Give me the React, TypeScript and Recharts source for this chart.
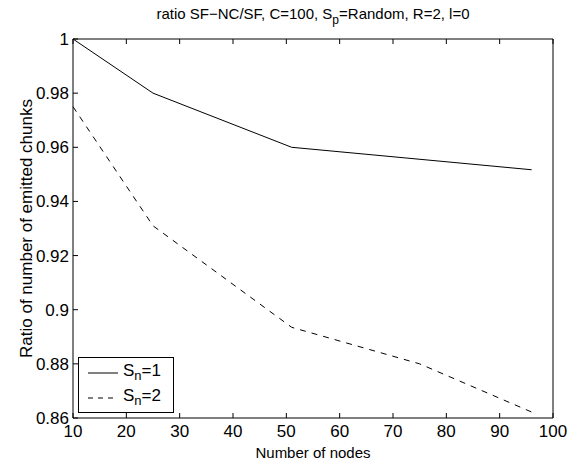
import React from "react";
import {
  LineChart,
  Line,
  XAxis,
  YAxis,
  Legend,
  Label,
} from "recharts";

// node counts on the x axis
const nodes = [10, 25, 51, 75, 96];
// S_n = 1 (no point measured at 75)
const sn1 = [1, 0.98, 0.96, null, 0.9517];
// S_n = 2
const sn2 = [0.975, 0.931, 0.8935, 0.88, 0.8622];

const xTicks = [10, 20, 30, 40, 50, 60, 70, 80, 90, 100];
const yTicks = [0.86, 0.88, 0.9, 0.92, 0.94, 0.96, 0.98, 1];

const FONT = '"Liberation Sans", Arial, Helvetica, sans-serif';
const TICK_LEN = 5;

const data = nodes.map((n, i) => ({ n, sn1: sn1[i], sn2: sn2[i] }));

const fmt = (v: number) => String(Number(v.toFixed(2)));

// ticks pointing into the plot, like matlab
const BottomTick = (props: any) => {
  const { x, y, payload } = props;
  return (
    <g>
      <line x1={x} y1={y} x2={x} y2={y - TICK_LEN} stroke="#000" />
      <text x={x} y={y + 19} textAnchor="middle" fontSize={17} fontFamily={FONT} fill="#000">
        {fmt(payload.value)}
      </text>
    </g>
  );
};

const TopTick = (props: any) => {
  const { x, y } = props;
  return <line x1={x} y1={y} x2={x} y2={y + TICK_LEN} stroke="#000" />;
};

const LeftTick = (props: any) => {
  const { x, y, payload } = props;
  return (
    <g>
      <line x1={x} y1={y} x2={x + TICK_LEN} y2={y} stroke="#000" />
      <text x={x - 4} y={y + 6} textAnchor="end" fontSize={17} fontFamily={FONT} fill="#000">
        {fmt(payload.value)}
      </text>
    </g>
  );
};

const RightTick = (props: any) => {
  const { x, y } = props;
  return <line x1={x} y1={y} x2={x - TICK_LEN} y2={y} stroke="#000" />;
};

const Title = (props: any) => {
  const vb = props.viewBox || { x: 73, width: 480 };
  return (
    <text x={vb.x + vb.width / 2} y={19} textAnchor="middle" fontSize={15} fontFamily={FONT} fill="#000">
      ratio SF−NC/SF, C=100, S
      <tspan dy={5} fontSize={12}>p</tspan>
      <tspan dy={-5}>=Random, R=2, l=0</tspan>
    </text>
  );
};

const LegendBox = () => {
  const rows = [
    { key: "1", dash: undefined as string | undefined },
    { key: "2", dash: "5 5" },
  ];
  return (
    <div
      style={{
        border: "1px solid #000",
        background: "#fff",
        width: 96,
        height: 56,
        boxSizing: "border-box",
        fontFamily: FONT,
        fontSize: 17,
        paddingTop: 2,
      }}
    >
      {rows.map((r) => (
        <div key={r.key} style={{ display: "flex", alignItems: "center", height: 25 }}>
          <svg width={44} height={10} style={{ flex: "none" }}>
            <line x1={9} y1={5} x2={39} y2={5} stroke="#000" strokeDasharray={r.dash} />
          </svg>
          <span>
            S<sub style={{ fontSize: 13 }}>n</sub>={r.key}
          </span>
        </div>
      ))}
    </div>
  );
};

export default function App() {
  return (
    <div style={{ position: "absolute", left: 0, top: 0, background: "#fff" }}>
      <LineChart width={571} height={461} data={data} margin={{ top: 0, right: 0, bottom: 0, left: 0 }}>
        <XAxis
          xAxisId="bottom"
          dataKey="n"
          type="number"
          domain={[10, 100]}
          ticks={xTicks}
          height={43}
          tickSize={0}
          tickMargin={0}
          tick={<BottomTick />}
          axisLine={{ stroke: "#000" }}
          interval={0}
        >
          <Label
            value="Number of nodes"
            position="insideBottom"
            offset={3}
            style={{ fontSize: 15, fontFamily: FONT, fill: "#000" }}
          />
        </XAxis>
        <XAxis
          xAxisId="top"
          orientation="top"
          dataKey="n"
          type="number"
          domain={[10, 100]}
          ticks={xTicks}
          height={39}
          tickSize={0}
          tickMargin={0}
          tick={<TopTick />}
          axisLine={{ stroke: "#000" }}
          interval={0}
        >
          <Label content={<Title />} />
        </XAxis>
        <YAxis
          yAxisId="left"
          type="number"
          domain={[0.86, 1]}
          ticks={yTicks}
          width={73}
          tickSize={0}
          tickMargin={0}
          tick={<LeftTick />}
          axisLine={{ stroke: "#000" }}
          interval={0}
        >
          <Label
            value="Ratio of number of emitted chunks"
            angle={-90}
            position="insideLeft"
            offset={26}
            style={{ fontSize: 17, fontFamily: FONT, fill: "#000", textAnchor: "middle" }}
          />
        </YAxis>
        <YAxis
          yAxisId="right"
          orientation="right"
          type="number"
          domain={[0.86, 1]}
          ticks={yTicks}
          width={18}
          tickSize={0}
          tickMargin={0}
          tick={<RightTick />}
          axisLine={{ stroke: "#000" }}
          interval={0}
        />
        <Legend
          layout="vertical"
          align="center"
          verticalAlign="middle"
          content={<LegendBox />}
          wrapperStyle={{ position: "absolute", left: 78, top: 357, width: 96, height: 56 }}
        />
        <Line
          xAxisId="bottom"
          yAxisId="left"
          dataKey="sn1"
          stroke="#000"
          strokeWidth={1}
          dot={false}
          connectNulls
          isAnimationActive={false}
        />
        <Line
          xAxisId="bottom"
          yAxisId="left"
          dataKey="sn2"
          stroke="#000"
          strokeWidth={1}
          strokeDasharray="6 6"
          dot={false}
          isAnimationActive={false}
        />
      </LineChart>
    </div>
  );
}
